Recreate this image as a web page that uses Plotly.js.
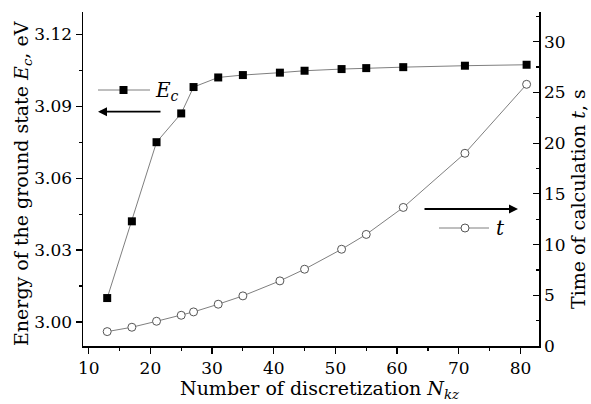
<!DOCTYPE html>
<html>
<head>
<meta charset="utf-8">
<script src="https://cdn.plot.ly/plotly-3.0.1.min.js"></script>
<style>html,body{margin:0;padding:0;background:#fff;}#chart{width:591px;height:404px;}</style>
</head>
<body>
<div id="chart"></div>
<script>
// Data
var nkz = [13, 17, 21, 25, 27, 31, 35, 41, 45, 51, 55, 61, 71, 81];
var energyEc = [3.010, 3.042, 3.075, 3.087, 3.098, 3.102, 3.103, 3.104, 3.1048, 3.1055, 3.1059, 3.1063, 3.1069, 3.1073];
var timeT = [1.42, 1.85, 2.44, 3.03, 3.36, 4.12, 4.94, 6.42, 7.57, 9.54, 11.0, 13.66, 19.0, 25.8];
var xTicks = [10, 20, 30, 40, 50, 60, 70, 80];
var yTicks = [3.00, 3.03, 3.06, 3.09, 3.12];
var y2Ticks = [0, 5, 10, 15, 20, 25, 30];

var W = 591, H = 404;
var M = {l: 83, r: 52, t: 12, b: 58};
var PW = W - M.l - M.r, PH = H - M.t - M.b;
function px(x) { return (x - M.l) / PW; }
function py(y) { return (H - M.b - y) / PH; }

var FONT = 'DejaVu Serif';

var traces = [
  {
    x: nkz, y: energyEc, type: 'scatter', mode: 'lines+markers',
    line: {color: '#7f7f7f', width: 1},
    marker: {symbol: 'square', size: 8, color: '#000'},
    showlegend: false, hoverinfo: 'skip'
  },
  {
    x: nkz, y: timeT, type: 'scatter', mode: 'lines+markers', yaxis: 'y2',
    line: {color: '#7f7f7f', width: 1},
    marker: {symbol: 'circle', size: 8, color: '#fff', line: {color: '#555', width: 1}},
    showlegend: false, hoverinfo: 'skip'
  }
];

var axBase = {
  showgrid: false, zeroline: false, showline: true, linecolor: '#000', linewidth: 1.5,
  tickcolor: '#000', tickwidth: 1.2, ticklen: 6,
  tickfont: {family: FONT, size: 17, color: '#000'}
};

var layout = {
  width: W, height: H,
  margin: {l: M.l, r: M.r, t: M.t, b: M.b, pad: 0},
  paper_bgcolor: '#fff', plot_bgcolor: '#fff',
  font: {family: FONT, color: '#000'},
  xaxis: Object.assign({}, axBase, {
    range: [9.076, 83.01], tickvals: xTicks, ticks: 'outside',
    minor: {dtick: 5, tick0: 5, ticks: 'outside', ticklen: 3, tickcolor: '#000', tickwidth: 1.2}
  }),
  yaxis: Object.assign({}, axBase, {
    range: [2.990, 3.1293], tickvals: yTicks, ticktext: yTicks.map(function(v){return v.toFixed(2);}),
    ticks: 'outside',
    minor: {dtick: 0.015, tick0: 3.0, ticks: 'outside', ticklen: 3, tickcolor: '#000', tickwidth: 1.2}
  }),
  yaxis2: Object.assign({}, axBase, {
    overlaying: 'y', side: 'right', range: [0, 32.93], tickvals: y2Ticks, ticks: 'inside',
    minor: {dtick: 2.5, tick0: 0, ticks: 'inside', ticklen: 3, tickcolor: '#000', tickwidth: 1.2}
  }),
  shapes: [
    {type: 'line', xref: 'paper', yref: 'paper', x0: px(98), x1: px(150), y0: py(90), y1: py(90), line: {color: '#7f7f7f', width: 1}},
    {type: 'rect', xref: 'paper', yref: 'paper', xsizemode: 'pixel', ysizemode: 'pixel', xanchor: px(123.5), yanchor: py(90), x0: -4, x1: 4, y0: -4, y1: 4, fillcolor: '#000', line: {width: 0}},
    {type: 'line', xref: 'paper', yref: 'paper', x0: px(439), x1: px(489), y0: py(228), y1: py(228), line: {color: '#7f7f7f', width: 1}},
    {type: 'circle', xref: 'paper', yref: 'paper', xsizemode: 'pixel', ysizemode: 'pixel', xanchor: px(465), yanchor: py(228), x0: -4, x1: 4, y0: -4, y1: 4, fillcolor: '#fff', line: {color: '#555', width: 1}}
  ],
  annotations: [
    {xref: 'paper', yref: 'paper', x: px(153), y: py(91), xanchor: 'left', yanchor: 'middle', showarrow: false,
     text: '<i>E</i><sub><i>c</i></sub>', font: {family: FONT, size: 20, color: '#000'}},
    {xref: 'paper', yref: 'paper', x: px(494), y: py(228), xanchor: 'left', yanchor: 'middle', showarrow: false,
     text: '<i>t</i>', font: {family: FONT, size: 20, color: '#000'}},
    {xref: 'paper', yref: 'paper', x: px(98), y: py(111.7), ax: 64, ay: 0, text: '', showarrow: true,
     arrowhead: 2, arrowsize: 1, arrowwidth: 1.8, arrowcolor: '#000', standoff: 0},
    {xref: 'paper', yref: 'paper', x: px(518), y: py(209), ax: -95, ay: 0, text: '', showarrow: true,
     arrowhead: 2, arrowsize: 1, arrowwidth: 1.8, arrowcolor: '#000', standoff: 0},
    {xref: 'paper', yref: 'paper', x: px(320), y: py(389), xanchor: 'center', yanchor: 'middle', showarrow: false,
     text: 'Number of discretization <i>N</i><sub><i>kz</i></sub>', font: {family: FONT, size: 19, color: '#000'}},
    {xref: 'paper', yref: 'paper', x: px(22), y: py(184), xanchor: 'center', yanchor: 'middle', showarrow: false, textangle: -90,
     text: 'Energy of the ground state <i>E</i><sub><i>c</i></sub>, eV', font: {family: FONT, size: 19, color: '#000'}},
    {xref: 'paper', yref: 'paper', x: px(578), y: py(199), xanchor: 'center', yanchor: 'middle', showarrow: false, textangle: -90,
     text: 'Time of calculation <i>t</i>, s', font: {family: FONT, size: 19, color: '#000'}}
  ]
};

Plotly.newPlot('chart', traces, layout, {staticPlot: true, displayModeBar: false});
</script>
</body>
</html>
